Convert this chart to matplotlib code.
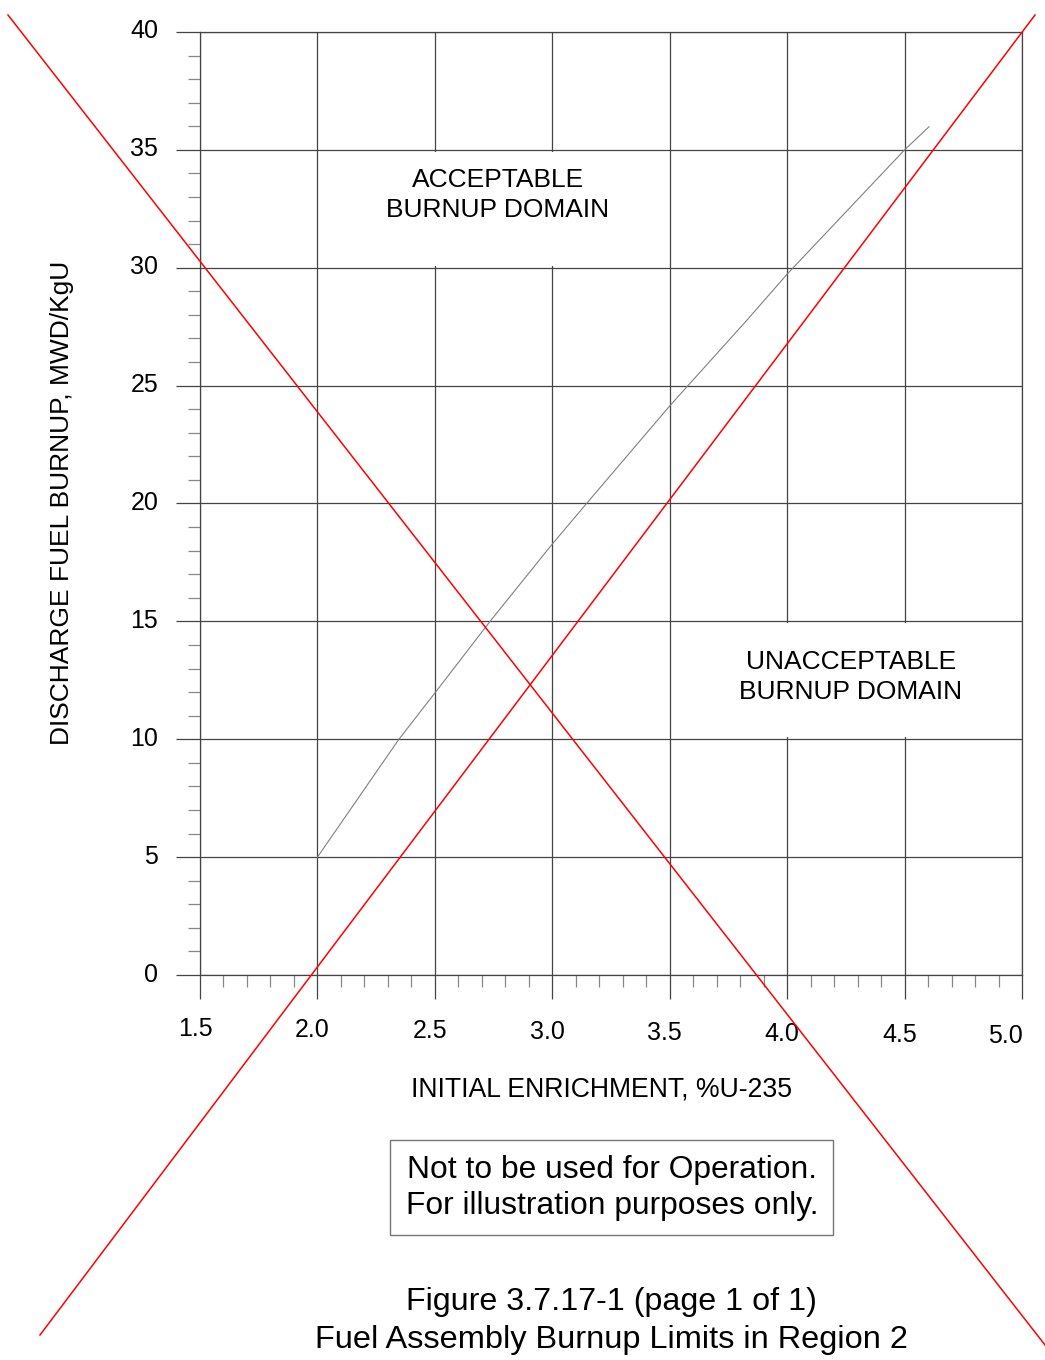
import matplotlib
matplotlib.use("Agg")
import matplotlib.pyplot as plt
from matplotlib.lines import Line2D
from matplotlib.patches import Rectangle
from matplotlib.transforms import ScaledTranslation
from matplotlib.ticker import MultipleLocator

plt.rcParams["font.family"] = ["Liberation Sans", "DejaVu Sans"]

# burnup limit curve
ENRICHMENT = [2.0, 2.347, 2.5, 2.735, 3.0, 3.146, 3.5, 3.829, 4.0, 4.5, 4.604]
BURNUP = [5.0, 10.0, 11.96, 15.0, 18.28, 20.0, 24.14, 27.78, 29.73, 35.0, 35.98]

X_TICKS = [1.5, 2.0, 2.5, 3.0, 3.5, 4.0, 4.5, 5.0]
Y_TICKS = [0, 5, 10, 15, 20, 25, 30, 35, 40]

GRID = "#444444"
MINOR = "#888888"

W, H = 1045, 1360
fig = plt.figure(figsize=(W / 100, H / 100), dpi=100)
ax = fig.add_axes([200 / W, 1 - 975 / H, 822 / W, 943 / H])

ax.plot(ENRICHMENT, BURNUP, color="#808080", linewidth=0.8, zorder=3)

ax.set_xlim(1.5, 5.0)
ax.set_ylim(0, 40)
ax.set_xticks(X_TICKS)
ax.set_xticklabels([f"{v:.1f}" for v in X_TICKS])
ax.set_yticks(Y_TICKS)
ax.xaxis.set_minor_locator(MultipleLocator(0.1))
ax.yaxis.set_minor_locator(MultipleLocator(1))

ax.set_axisbelow(True)
ax.grid(True, which="major", color=GRID, linewidth=0.9)
for s in ax.spines.values():
    s.set_color(GRID)
    s.set_linewidth(0.9)

ax.tick_params(which="major", direction="out", length=17, width=0.9, color=GRID,
               labelsize=18)
ax.tick_params(which="minor", direction="out", length=8.5, width=0.9, color=MINOR)
ax.tick_params(axis="x", which="major", pad=13)
ax.tick_params(axis="y", which="major", pad=13)

# x tick labels drift slightly downward in the original; last one pulled left
for i, lbl in enumerate(ax.get_xticklabels()):
    dx = -5 if i < len(X_TICKS) - 1 else -17
    lbl.set_transform(lbl.get_transform() + ScaledTranslation(dx / 100, -i / 100, fig.dpi_scale_trans))
for lbl in ax.get_yticklabels():
    lbl.set_transform(lbl.get_transform() + ScaledTranslation(0, 3 / 100, fig.dpi_scale_trans))

# white panels behind the domain labels
ax.add_patch(Rectangle((2.28, 30.08), 1.0, 4.84, facecolor="white", edgecolor="none", zorder=2))
ax.add_patch(Rectangle((3.77, 10.08), 1.0, 4.84, facecolor="white", edgecolor="none", zorder=2))
ax.text(2.769, 33.1, "ACCEPTABLE\nBURNUP DOMAIN", ha="center", va="center",
        fontsize=19, linespacing=1.3, zorder=4)
ax.text(4.272, 12.64, "UNACCEPTABLE\nBURNUP DOMAIN", ha="center", va="center",
        fontsize=19, linespacing=1.3, zorder=4)

fig.text(602 / W, 1 - 1090 / H, "INITIAL ENRICHMENT, %U-235", ha="center", va="center", fontsize=19.2)
fig.text(62 / W, 1 - 503 / H, "DISCHARGE FUEL BURNUP, MWD/KgU", ha="center", va="center",
         rotation=90, fontsize=19)

fig.add_artist(Rectangle((390 / W, 1 - 1235 / H), 443 / W, 95 / H, transform=fig.transFigure,
                         facecolor="white", edgecolor="#777777", linewidth=1.0))
fig.text(612 / W, 1 - 1188 / H, "Not to be used for Operation.\nFor illustration purposes only.",
         ha="center", va="center", fontsize=22.9, linespacing=1.3)

fig.text(611 / W, 1 - 1302 / H, "Figure 3.7.17-1 (page 1 of 1)", ha="center", va="center", fontsize=23.2)
fig.text(611 / W, 1 - 1340 / H, "Fuel Assembly Burnup Limits in Region 2", ha="center", va="center",
         fontsize=23.4)

# big red cross over the whole sheet
fig.add_artist(Line2D([8 / W, 1045 / W], [1 - 15 / H, 1 - 1345 / H], transform=fig.transFigure,
                      color="red", linewidth=1.1))
fig.add_artist(Line2D([40 / W, 1035 / W], [1 - 1335 / H, 1 - 15 / H], transform=fig.transFigure,
                      color="red", linewidth=1.1))

fig.savefig("out.png", dpi=100)
